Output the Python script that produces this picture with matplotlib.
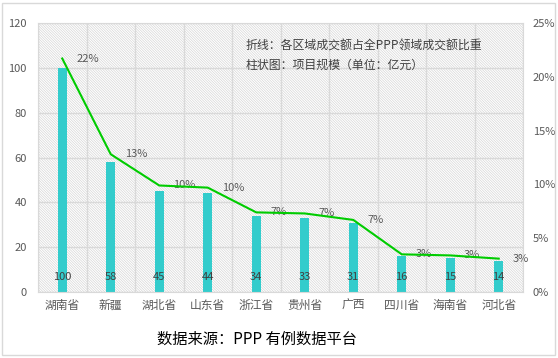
"""
Bar + line chart: PPP project size and share of deal value by province.
"""
import matplotlib
matplotlib.use("Agg")
import matplotlib.pyplot as plt
from matplotlib.patches import Rectangle
from matplotlib.ticker import FuncFormatter

plt.rcParams['font.family'] = ['Noto Sans CJK SC', 'DejaVu Sans']
plt.rcParams['hatch.linewidth'] = 0.5

provinces = ["湖南省", "新疆", "湖北省", "山东省", "浙江省",
             "贵州省", "广西", "四川省", "海南省", "河北省"]
scale = [100, 58, 45, 44, 34, 33, 31, 16, 15, 14]
share = [21.7, 12.8, 9.9, 9.7, 7.4, 7.3, 6.7, 3.5, 3.4, 3.1]
share_labels = ["22%", "13%", "10%", "10%", "7%", "7%", "7%", "3%", "3%", "3%"]

GRID = "#d9d9d9"
TEXT = "#595959"

fig = plt.figure(figsize=(5.58, 3.58), dpi=100)
fig.patches.append(Rectangle((2 / 558, 3 / 358), 553 / 558, 352 / 358,
                             transform=fig.transFigure, fill=False,
                             edgecolor=GRID, lw=1.0))
ax = fig.add_axes([38 / 558, 1 - 292 / 358, 485 / 558, 269 / 358])

x = range(len(provinces))
ax.add_patch(Rectangle((0, 0), 1, 1, transform=ax.transAxes,
                       facecolor="white", edgecolor="#d6d6d6",
                       hatch="\\" * 13, lw=0, zorder=0))
ax.bar(x, scale, width=0.19, color="#33cccc", zorder=2)
for i, v in enumerate(scale):
    ax.text(i, 6.7, str(v), ha="center", va="center",
            fontsize=8, color="#404040", zorder=3)

ax.set_xlim(-0.5, len(provinces) - 0.5)
ax.set_ylim(0, 120)
ax.set_yticks(range(0, 121, 20))
ax.set_xticks(x)
ax.set_xticklabels(provinces, fontsize=8.5, color=TEXT)
ax.tick_params(axis="y", labelsize=8, colors=TEXT, length=0, pad=8)
ax.tick_params(axis="x", length=0, pad=5)
ax.yaxis.grid(True, color=GRID, lw=1, zorder=1)
for b in range(len(provinces) + 1):
    ax.axvline(b - 0.5, color=GRID, lw=1, zorder=1)
ax.set_axisbelow(True)
for s in ax.spines.values():
    s.set_color(GRID)

ax2 = ax.twinx()
ax2.plot(x, [s / 100 for s in share], color="#00cc00", lw=1.5, zorder=4)
for i, (s, lab) in enumerate(zip(share, share_labels)):
    ax2.annotate(lab, (i, s / 100), xytext=(10, 0), textcoords="offset points",
                 ha="left", va="center", fontsize=8, color=TEXT)
ax2.set_ylim(0, 0.25)
ax2.set_yticks([0, 0.05, 0.10, 0.15, 0.20, 0.25])
ax2.yaxis.set_major_formatter(FuncFormatter(lambda v, p: f"{v * 100:.0f}%"))
ax2.tick_params(axis="y", labelsize=8, colors=TEXT, length=0, pad=7)
for s in ax2.spines.values():
    s.set_visible(False)

ax.text(0.428, 0.915, "折线：各区域成交额占全PPP领域成交额比重",
        transform=ax.transAxes, fontsize=8.6, color="#404040", va="center")
ax.text(0.428, 0.842, "柱状图：项目规模（单位：亿元）",
        transform=ax.transAxes, fontsize=8.6, color="#404040", va="center")

fig.text(257 / 558, 1 - 339 / 358, "数据来源：PPP 有例数据平台",
         ha="center", va="center", fontsize=11, color="black")

fig.savefig("out.png", dpi=100)
